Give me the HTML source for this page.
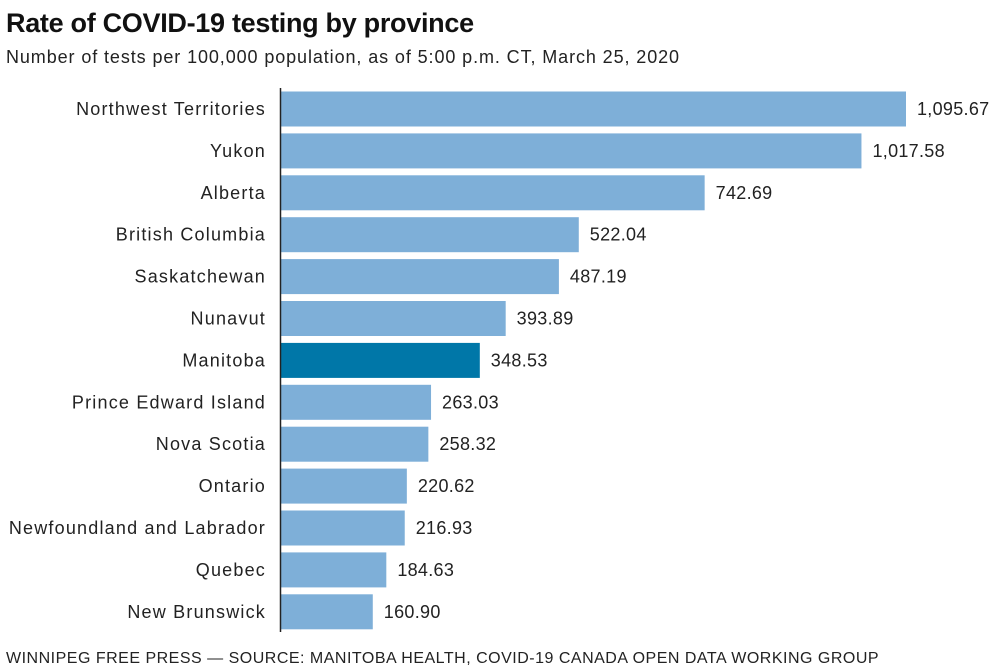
<!DOCTYPE html>
<html><head><meta charset="utf-8"><style>
html,body{margin:0;padding:0;background:#fff;width:999px;height:669px;overflow:hidden;font-family:"Liberation Sans",sans-serif;}
svg text{font-family:"Liberation Sans",sans-serif;}
</style></head><body>
<svg id="chart" width="999" height="669">
<text x="6" y="32" font-size="27" font-weight="bold" fill="#111" letter-spacing="-0.3">Rate of COVID-19 testing by province</text>
<text x="6" y="63" font-size="18" fill="#222" letter-spacing="0.9">Number of tests per 100,000 population, as of 5:00 p.m. CT, March 25, 2020</text>
<g id="bars"></g>
<line x1="280.5" y1="88" x2="280.5" y2="632" stroke="#222" stroke-width="1.5"/>
<text x="6" y="663" font-size="16" fill="#222" letter-spacing="0.5">WINNIPEG FREE PRESS — SOURCE: MANITOBA HEALTH, COVID-19 CANADA OPEN DATA WORKING GROUP</text>
</svg>
<script>
const categories=["Northwest Territories","Yukon","Alberta","British Columbia","Saskatchewan","Nunavut","Manitoba","Prince Edward Island","Nova Scotia","Ontario","Newfoundland and Labrador","Quebec","New Brunswick"];
const values=[1095.67,1017.58,742.69,522.04,487.19,393.89,348.53,263.03,258.32,220.62,216.93,184.63,160.90];
const valueLabels=["1,095.67","1,017.58","742.69","522.04","487.19","393.89","348.53","263.03","258.32","220.62","216.93","184.63","160.90"];
const highlight="Manitoba";
const x0=281,pxPer=625/1095.67;
const xs=v=>x0+v*pxPer;
const ys=i=>109+i*41.9;
const g=document.getElementById('bars');
const NS="http://www.w3.org/2000/svg";
categories.forEach((c,i)=>{
 const cy=ys(i);
 const r=document.createElementNS(NS,'rect');
 r.setAttribute('x',x0);r.setAttribute('y',cy-17.5);
 r.setAttribute('width',xs(values[i])-x0);r.setAttribute('height',35);
 r.setAttribute('fill',c===highlight?'#0077a8':'#7eafd8');
 
 
 g.appendChild(r);
 const t=document.createElementNS(NS,'text');
 t.setAttribute('x',266);t.setAttribute('y',cy+6);t.setAttribute('text-anchor','end');
 t.setAttribute('font-size','18');t.setAttribute('letter-spacing','1.2');t.setAttribute('fill','#222');t.textContent=c;
 
 
 g.appendChild(t);
 const v=document.createElementNS(NS,'text');
 v.setAttribute('x',xs(values[i])+11);v.setAttribute('y',cy+6);
 v.setAttribute('font-size','18');v.setAttribute('letter-spacing','0.3');v.setAttribute('fill','#222');v.textContent=valueLabels[i];
 
 
 g.appendChild(v);
});
</script>
</body></html>
